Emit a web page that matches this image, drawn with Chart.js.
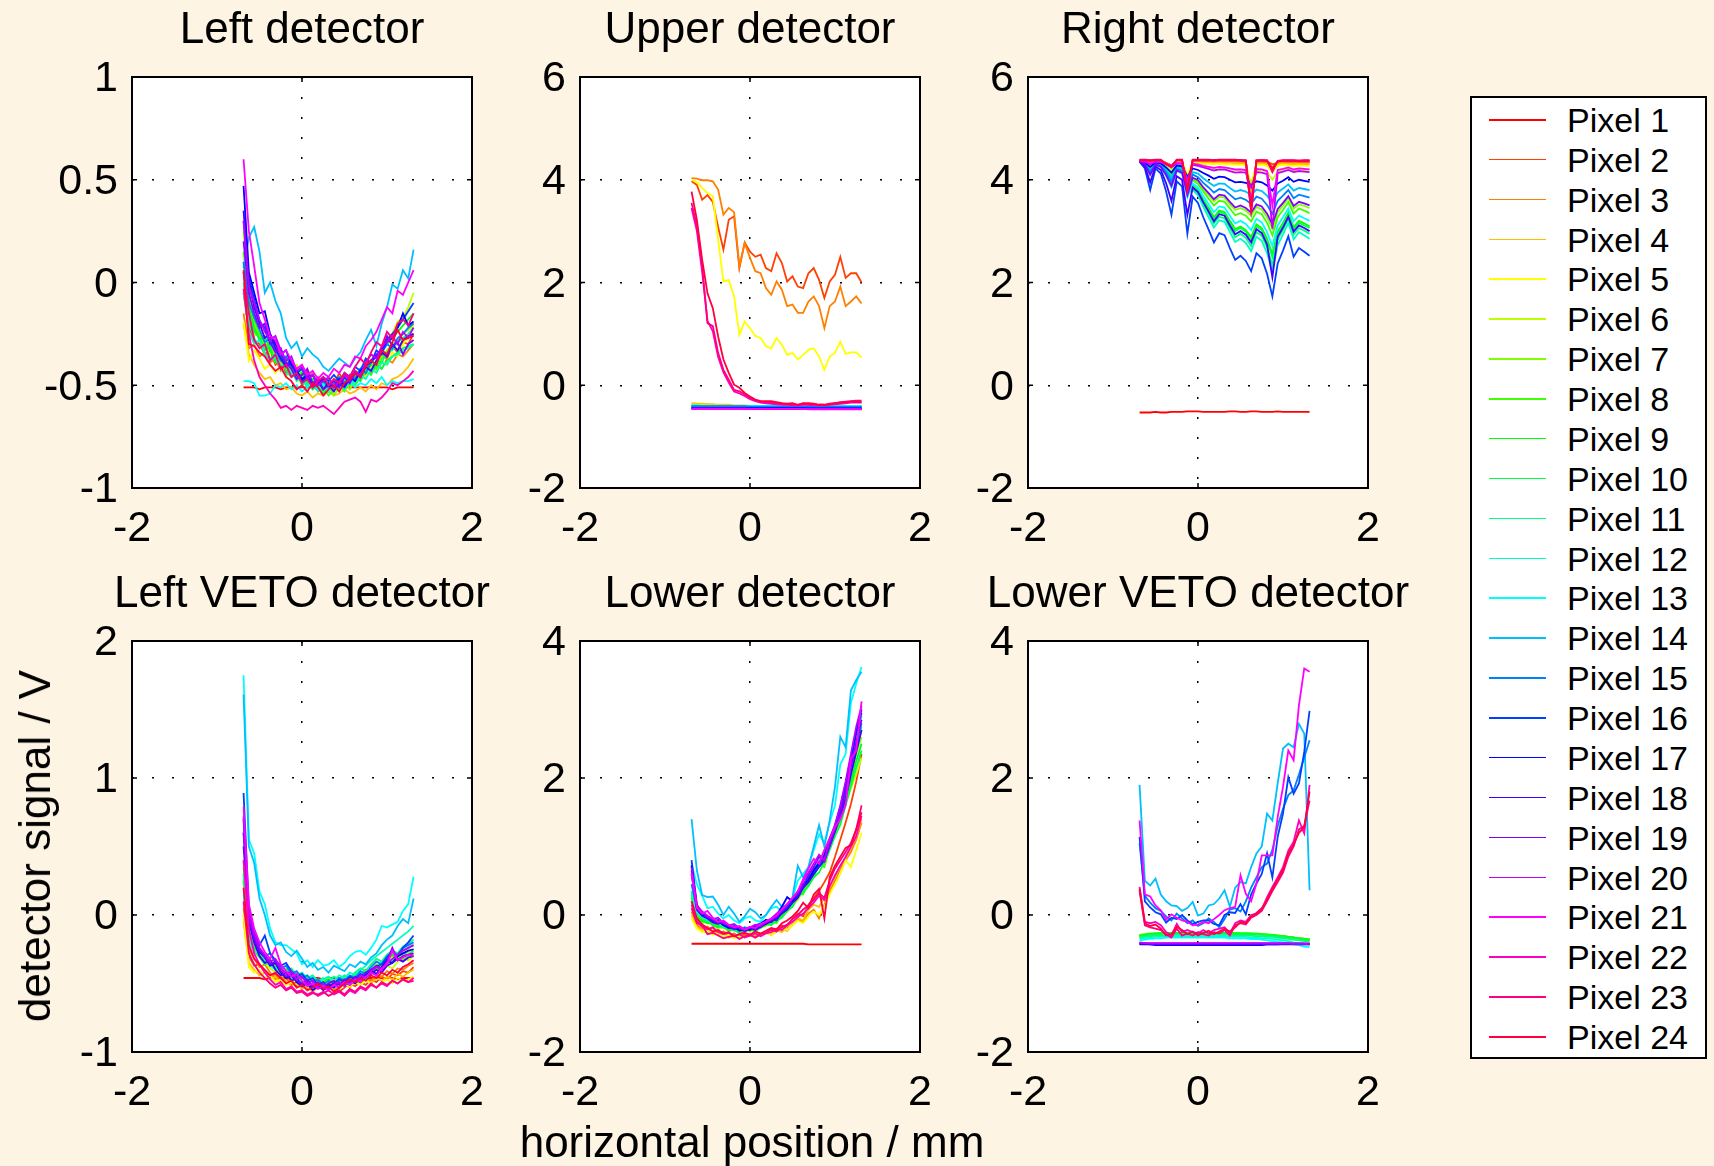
<!DOCTYPE html>
<html><head><meta charset="utf-8">
<script src="https://cdn.jsdelivr.net/npm/chart.js@4/dist/chart.umd.min.js"></script>
<style>
html,body{margin:0;padding:0;background:#fdf4e3;}
body{width:1714px;height:1166px;position:relative;overflow:hidden;font-family:"Liberation Sans",Arial,Helvetica,sans-serif;}
canvas{position:absolute;}
.axlabel{position:absolute;font-size:44px;color:#000;white-space:nowrap;line-height:1;}
#legend{position:absolute;left:1470px;top:96px;width:237px;height:963px;box-sizing:border-box;border:2px solid #000;background:#fff;}
.lg-row{position:absolute;left:0;height:40px;width:100%;}
.lg-line{position:absolute;left:17px;top:19px;width:57px;height:1.5px;}
.lg-text{position:absolute;left:95px;top:0;line-height:40px;font-size:34px;color:#000;white-space:nowrap;}
</style></head><body>
<div id="charts"></div>
<div class="axlabel" id="ylab" style="left:35px;top:846px;transform:translate(-50%,-50%) rotate(-90deg);"></div>
<div class="axlabel" id="xlab" style="left:752px;top:1141.5px;transform:translate(-50%,-50%);"></div>
<div id="legend"></div>
<script>
// ---------------- DATA ----------------
const xPositions = [-0.6875,-0.625,-0.5625,-0.5,-0.4375,-0.375,-0.3125,-0.25,-0.1875,-0.125,-0.0625,0,0.0625,0.125,0.1875,0.25,0.3125,0.375,0.4375,0.5,0.5625,0.625,0.6875,0.75,0.8125,0.875,0.9375,1,1.0625,1.125,1.1875,1.25,1.3125];
const pixelLabels = ['Pixel 1','Pixel 2','Pixel 3','Pixel 4','Pixel 5','Pixel 6','Pixel 7','Pixel 8','Pixel 9','Pixel 10','Pixel 11','Pixel 12','Pixel 13','Pixel 14','Pixel 15','Pixel 16','Pixel 17','Pixel 18','Pixel 19','Pixel 20','Pixel 21','Pixel 22','Pixel 23','Pixel 24'];
const panelTitles = ['Left detector','Upper detector','Right detector','Left VETO detector','Lower detector','Lower VETO detector'];
const xTicks = [-2,0,2];
const yTicksLeft = [-1,-0.5,0,0.5,1];
const yTicksUpper = [-2,0,2,4,6];
const yTicksRight = [-2,0,2,4,6];
const yTicksLeftVeto = [-1,0,1,2];
const yTicksLower = [-2,0,2,4];
const yTicksLowerVeto = [-2,0,2,4];
const yAxisTitle = 'detector signal / V';
const xAxisTitle = 'horizontal position / mm';

const leftDetector = [
[-0.51,-0.51,-0.51,-0.52,-0.51,-0.51,-0.51,-0.52,-0.51,-0.51,-0.51,-0.51,-0.51,-0.51,-0.52,-0.51,-0.51,-0.51,-0.51,-0.51,-0.51,-0.51,-0.51,-0.51,-0.51,-0.51,-0.51,-0.51,-0.52,-0.51,-0.51,-0.51,-0.51],
[-0.05,-0.22,-0.28,-0.30,-0.35,-0.33,-0.40,-0.38,-0.44,-0.41,-0.47,-0.45,-0.43,-0.50,-0.46,-0.52,-0.47,-0.50,-0.44,-0.49,-0.46,-0.48,-0.42,-0.45,-0.38,-0.41,-0.35,-0.37,-0.31,-0.34,-0.29,-0.30,-0.25],
[-0.15,-0.32,-0.30,-0.36,-0.34,-0.39,-0.37,-0.43,-0.40,-0.45,-0.43,-0.48,-0.46,-0.44,-0.50,-0.47,-0.51,-0.48,-0.50,-0.47,-0.49,-0.45,-0.47,-0.43,-0.44,-0.40,-0.42,-0.37,-0.39,-0.35,-0.36,-0.33,-0.30],
[-0.20,-0.35,-0.40,-0.44,-0.47,-0.46,-0.50,-0.49,-0.52,-0.51,-0.54,-0.55,-0.53,-0.56,-0.54,-0.55,-0.53,-0.55,-0.54,-0.52,-0.54,-0.53,-0.51,-0.53,-0.50,-0.52,-0.49,-0.50,-0.47,-0.46,-0.44,-0.41,-0.37],
[-0.19,-0.38,-0.33,-0.37,-0.42,-0.40,-0.44,-0.41,-0.46,-0.43,-0.48,-0.45,-0.49,-0.47,-0.50,-0.46,-0.51,-0.49,-0.47,-0.50,-0.45,-0.48,-0.43,-0.46,-0.41,-0.43,-0.38,-0.40,-0.34,-0.36,-0.30,-0.27,-0.20],
[0.00,-0.18,-0.26,-0.24,-0.31,-0.35,-0.32,-0.38,-0.36,-0.42,-0.40,-0.44,-0.48,-0.45,-0.49,-0.46,-0.50,-0.47,-0.49,-0.45,-0.47,-0.43,-0.44,-0.38,-0.40,-0.35,-0.33,-0.27,-0.25,-0.19,-0.17,-0.12,-0.05],
[0.25,-0.05,-0.20,-0.27,-0.31,-0.29,-0.36,-0.40,-0.38,-0.44,-0.46,-0.43,-0.49,-0.52,-0.48,-0.53,-0.50,-0.55,-0.51,-0.49,-0.52,-0.47,-0.45,-0.43,-0.39,-0.41,-0.36,-0.33,-0.30,-0.28,-0.25,-0.23,-0.20],
[0.15,-0.08,-0.18,-0.25,-0.30,-0.33,-0.37,-0.35,-0.41,-0.44,-0.42,-0.47,-0.50,-0.48,-0.53,-0.51,-0.55,-0.52,-0.50,-0.53,-0.48,-0.50,-0.46,-0.44,-0.40,-0.42,-0.37,-0.35,-0.31,-0.33,-0.28,-0.27,-0.25],
[0.10,-0.12,-0.22,-0.28,-0.26,-0.33,-0.38,-0.36,-0.42,-0.40,-0.46,-0.44,-0.49,-0.47,-0.51,-0.49,-0.53,-0.50,-0.47,-0.50,-0.45,-0.47,-0.42,-0.44,-0.38,-0.36,-0.33,-0.30,-0.27,-0.24,-0.21,-0.18,-0.15],
[0.05,-0.15,-0.24,-0.27,-0.33,-0.31,-0.39,-0.37,-0.43,-0.46,-0.44,-0.50,-0.48,-0.52,-0.50,-0.54,-0.51,-0.49,-0.52,-0.48,-0.50,-0.46,-0.48,-0.43,-0.45,-0.40,-0.42,-0.38,-0.36,-0.34,-0.32,-0.31,-0.30],
[0.00,-0.20,-0.27,-0.32,-0.30,-0.37,-0.35,-0.41,-0.39,-0.45,-0.43,-0.47,-0.51,-0.48,-0.52,-0.49,-0.51,-0.48,-0.51,-0.47,-0.49,-0.44,-0.46,-0.42,-0.43,-0.38,-0.39,-0.34,-0.33,-0.29,-0.27,-0.25,-0.22],
[-0.05,-0.24,-0.30,-0.28,-0.35,-0.38,-0.36,-0.42,-0.45,-0.43,-0.48,-0.46,-0.50,-0.48,-0.53,-0.50,-0.48,-0.51,-0.49,-0.52,-0.47,-0.49,-0.45,-0.47,-0.42,-0.44,-0.39,-0.40,-0.36,-0.35,-0.33,-0.32,-0.30],
[-0.48,-0.48,-0.49,-0.55,-0.55,-0.54,-0.50,-0.51,-0.49,-0.52,-0.50,-0.53,-0.51,-0.49,-0.52,-0.50,-0.53,-0.49,-0.51,-0.50,-0.48,-0.51,-0.49,-0.50,-0.47,-0.49,-0.46,-0.50,-0.48,-0.49,-0.48,-0.48,-0.47],
[0.07,0.22,0.27,0.15,-0.05,0.00,-0.09,-0.15,-0.27,-0.32,-0.29,-0.36,-0.32,-0.35,-0.37,-0.41,-0.43,-0.40,-0.37,-0.39,-0.41,-0.37,-0.34,-0.28,-0.23,-0.31,-0.20,-0.12,-0.01,-0.03,0.06,0.02,0.16],
[0.10,-0.10,-0.17,-0.23,-0.29,-0.27,-0.33,-0.38,-0.36,-0.41,-0.44,-0.42,-0.47,-0.45,-0.50,-0.48,-0.51,-0.49,-0.46,-0.49,-0.45,-0.47,-0.42,-0.44,-0.39,-0.36,-0.34,-0.30,-0.32,-0.27,-0.25,-0.22,-0.20],
[0.30,0.02,-0.08,-0.19,-0.22,-0.30,-0.28,-0.35,-0.40,-0.38,-0.44,-0.42,-0.47,-0.45,-0.49,-0.46,-0.48,-0.45,-0.48,-0.44,-0.46,-0.41,-0.43,-0.37,-0.39,-0.33,-0.35,-0.28,-0.25,-0.22,-0.18,-0.14,-0.10],
[0.47,0.05,-0.05,-0.15,-0.14,-0.25,-0.30,-0.35,-0.33,-0.40,-0.43,-0.47,-0.45,-0.50,-0.48,-0.52,-0.49,-0.51,-0.47,-0.50,-0.46,-0.48,-0.43,-0.41,-0.38,-0.36,-0.32,-0.29,-0.27,-0.22,-0.15,-0.21,-0.19],
[0.35,0.00,-0.12,-0.20,-0.27,-0.25,-0.32,-0.37,-0.41,-0.39,-0.45,-0.48,-0.46,-0.51,-0.49,-0.47,-0.50,-0.53,-0.49,-0.51,-0.47,-0.44,-0.46,-0.41,-0.43,-0.38,-0.34,-0.36,-0.30,-0.33,-0.28,-0.26,-0.25],
[0.20,-0.05,-0.15,-0.22,-0.20,-0.29,-0.34,-0.32,-0.39,-0.42,-0.47,-0.45,-0.42,-0.49,-0.47,-0.52,-0.50,-0.48,-0.51,-0.46,-0.49,-0.44,-0.46,-0.40,-0.38,-0.35,-0.33,-0.26,-0.31,-0.29,-0.35,-0.30,-0.28],
[0.30,-0.02,-0.10,-0.18,-0.24,-0.28,-0.26,-0.33,-0.38,-0.36,-0.43,-0.41,-0.47,-0.45,-0.50,-0.48,-0.46,-0.51,-0.48,-0.45,-0.47,-0.43,-0.45,-0.39,-0.35,-0.37,-0.31,-0.29,-0.26,-0.30,-0.24,-0.27,-0.22],
[0.60,0.25,0.08,-0.10,-0.18,-0.26,-0.28,-0.35,-0.33,-0.38,-0.42,-0.40,-0.45,-0.43,-0.47,-0.44,-0.46,-0.42,-0.44,-0.40,-0.41,-0.36,-0.37,-0.31,-0.28,-0.24,-0.18,-0.12,-0.15,-0.04,-0.06,0.00,0.06],
[-0.03,-0.25,-0.38,-0.46,-0.50,-0.54,-0.57,-0.61,-0.60,-0.62,-0.60,-0.61,-0.62,-0.60,-0.61,-0.60,-0.62,-0.64,-0.61,-0.58,-0.57,-0.56,-0.58,-0.63,-0.57,-0.58,-0.56,-0.53,-0.49,-0.50,-0.48,-0.46,-0.43],
[0.05,-0.15,-0.28,-0.32,-0.30,-0.38,-0.35,-0.42,-0.40,-0.46,-0.44,-0.49,-0.47,-0.51,-0.48,-0.46,-0.50,-0.47,-0.49,-0.44,-0.46,-0.41,-0.37,-0.40,-0.34,-0.29,-0.31,-0.24,-0.27,-0.20,-0.18,-0.21,-0.15],
[0.06,-0.30,-0.31,-0.34,-0.36,-0.40,-0.43,-0.41,-0.46,-0.48,-0.52,-0.50,-0.53,-0.49,-0.51,-0.55,-0.52,-0.50,-0.53,-0.49,-0.47,-0.44,-0.46,-0.41,-0.38,-0.40,-0.33,-0.35,-0.29,-0.23,-0.28,-0.27,-0.26]
];

const upperDetector = [
[-0.43,-0.43,-0.43,-0.43,-0.43,-0.43,-0.43,-0.43,-0.43,-0.43,-0.43,-0.43,-0.43,-0.43,-0.43,-0.43,-0.43,-0.43,-0.43,-0.43,-0.43,-0.43,-0.43,-0.43,-0.43,-0.43,-0.43,-0.43,-0.43,-0.43,-0.43,-0.43,-0.43],
[3.97,3.90,3.61,3.70,3.57,3.08,2.64,3.22,3.29,2.28,2.78,2.60,2.50,2.54,2.28,2.22,2.57,2.38,2.02,2.12,1.92,1.89,2.18,2.28,2.05,1.70,2.02,2.15,2.50,2.09,2.18,2.18,2.00],
[4.03,4.02,3.99,3.99,3.97,3.81,3.32,3.45,3.37,2.31,2.77,2.48,2.22,2.18,1.89,1.76,2.02,1.86,1.54,1.57,1.41,1.41,1.63,1.73,1.54,1.11,1.54,1.63,1.92,1.54,1.63,1.73,1.59],
[-0.35,-0.36,-0.36,-0.37,-0.37,-0.38,-0.38,-0.38,-0.39,-0.39,-0.39,-0.40,-0.40,-0.40,-0.40,-0.41,-0.41,-0.41,-0.41,-0.41,-0.41,-0.41,-0.42,-0.42,-0.42,-0.42,-0.42,-0.42,-0.42,-0.42,-0.42,-0.42,-0.42],
[4.00,3.95,3.84,3.74,3.68,2.83,2.02,2.05,1.73,0.98,1.24,1.11,0.96,0.92,0.76,0.72,0.92,0.79,0.59,0.63,0.50,0.59,0.69,0.72,0.56,0.30,0.56,0.63,0.85,0.61,0.64,0.64,0.54],
[-0.37,-0.38,-0.38,-0.39,-0.39,-0.39,-0.40,-0.40,-0.40,-0.40,-0.41,-0.41,-0.41,-0.41,-0.41,-0.41,-0.42,-0.42,-0.42,-0.42,-0.42,-0.42,-0.42,-0.42,-0.42,-0.42,-0.42,-0.42,-0.42,-0.42,-0.42,-0.42,-0.42],
[-0.39,-0.39,-0.40,-0.40,-0.40,-0.41,-0.41,-0.41,-0.41,-0.41,-0.42,-0.42,-0.42,-0.42,-0.42,-0.42,-0.42,-0.42,-0.42,-0.42,-0.42,-0.42,-0.42,-0.42,-0.42,-0.42,-0.42,-0.42,-0.42,-0.42,-0.42,-0.42,-0.42],
[-0.40,-0.40,-0.41,-0.41,-0.41,-0.41,-0.42,-0.42,-0.42,-0.42,-0.42,-0.43,-0.43,-0.43,-0.43,-0.43,-0.43,-0.43,-0.43,-0.43,-0.43,-0.43,-0.43,-0.43,-0.43,-0.43,-0.43,-0.43,-0.43,-0.43,-0.43,-0.43,-0.43],
[-0.41,-0.41,-0.41,-0.42,-0.42,-0.42,-0.42,-0.42,-0.42,-0.42,-0.42,-0.42,-0.42,-0.42,-0.42,-0.42,-0.42,-0.42,-0.42,-0.42,-0.42,-0.42,-0.43,-0.43,-0.43,-0.43,-0.43,-0.43,-0.43,-0.43,-0.43,-0.43,-0.43],
[-0.41,-0.42,-0.42,-0.42,-0.42,-0.42,-0.42,-0.42,-0.42,-0.42,-0.42,-0.42,-0.42,-0.42,-0.42,-0.42,-0.42,-0.42,-0.42,-0.42,-0.42,-0.42,-0.42,-0.42,-0.42,-0.42,-0.42,-0.42,-0.42,-0.42,-0.42,-0.42,-0.42],
[-0.41,-0.41,-0.41,-0.41,-0.41,-0.41,-0.41,-0.41,-0.41,-0.41,-0.41,-0.41,-0.41,-0.41,-0.41,-0.41,-0.41,-0.41,-0.41,-0.41,-0.41,-0.41,-0.42,-0.42,-0.42,-0.42,-0.42,-0.42,-0.42,-0.42,-0.42,-0.42,-0.42],
[-0.40,-0.40,-0.40,-0.40,-0.40,-0.40,-0.40,-0.40,-0.40,-0.40,-0.40,-0.41,-0.41,-0.41,-0.41,-0.41,-0.41,-0.41,-0.41,-0.41,-0.41,-0.41,-0.41,-0.41,-0.41,-0.41,-0.41,-0.41,-0.41,-0.41,-0.41,-0.41,-0.41],
[-0.39,-0.39,-0.40,-0.40,-0.40,-0.40,-0.40,-0.40,-0.40,-0.40,-0.40,-0.40,-0.40,-0.40,-0.40,-0.40,-0.40,-0.40,-0.40,-0.40,-0.40,-0.40,-0.41,-0.41,-0.41,-0.41,-0.41,-0.41,-0.41,-0.41,-0.41,-0.41,-0.41],
[-0.40,-0.40,-0.40,-0.40,-0.40,-0.40,-0.40,-0.40,-0.40,-0.40,-0.40,-0.41,-0.41,-0.41,-0.41,-0.41,-0.41,-0.41,-0.41,-0.41,-0.41,-0.41,-0.41,-0.41,-0.41,-0.41,-0.41,-0.41,-0.41,-0.41,-0.41,-0.41,-0.41],
[-0.41,-0.41,-0.41,-0.41,-0.41,-0.41,-0.41,-0.41,-0.41,-0.41,-0.41,-0.42,-0.42,-0.42,-0.42,-0.42,-0.42,-0.42,-0.42,-0.42,-0.42,-0.42,-0.42,-0.42,-0.42,-0.42,-0.42,-0.42,-0.42,-0.42,-0.42,-0.42,-0.42],
[-0.44,-0.44,-0.44,-0.44,-0.44,-0.44,-0.44,-0.44,-0.44,-0.44,-0.44,-0.44,-0.44,-0.44,-0.44,-0.44,-0.44,-0.44,-0.44,-0.44,-0.44,-0.44,-0.45,-0.45,-0.45,-0.45,-0.45,-0.45,-0.45,-0.45,-0.45,-0.45,-0.45],
[-0.45,-0.45,-0.45,-0.45,-0.45,-0.45,-0.45,-0.45,-0.45,-0.45,-0.45,-0.45,-0.45,-0.45,-0.45,-0.45,-0.45,-0.45,-0.45,-0.45,-0.45,-0.45,-0.45,-0.45,-0.45,-0.45,-0.45,-0.45,-0.45,-0.45,-0.45,-0.45,-0.45],
[-0.45,-0.45,-0.45,-0.45,-0.45,-0.45,-0.45,-0.45,-0.45,-0.45,-0.45,-0.46,-0.46,-0.46,-0.46,-0.46,-0.46,-0.46,-0.46,-0.46,-0.46,-0.46,-0.46,-0.46,-0.46,-0.46,-0.46,-0.46,-0.46,-0.46,-0.46,-0.46,-0.46],
[-0.45,-0.45,-0.45,-0.45,-0.45,-0.45,-0.45,-0.45,-0.45,-0.45,-0.45,-0.46,-0.46,-0.46,-0.46,-0.46,-0.46,-0.46,-0.46,-0.46,-0.46,-0.46,-0.46,-0.46,-0.46,-0.46,-0.46,-0.46,-0.46,-0.46,-0.46,-0.46,-0.46],
[-0.46,-0.46,-0.46,-0.46,-0.46,-0.46,-0.46,-0.46,-0.46,-0.46,-0.46,-0.46,-0.46,-0.46,-0.46,-0.46,-0.46,-0.46,-0.46,-0.46,-0.46,-0.46,-0.46,-0.46,-0.46,-0.46,-0.46,-0.46,-0.46,-0.46,-0.46,-0.46,-0.46],
[-0.46,-0.46,-0.46,-0.46,-0.46,-0.46,-0.46,-0.46,-0.46,-0.46,-0.46,-0.46,-0.46,-0.46,-0.46,-0.46,-0.46,-0.46,-0.46,-0.46,-0.46,-0.46,-0.47,-0.47,-0.47,-0.47,-0.47,-0.47,-0.47,-0.47,-0.47,-0.47,-0.47],
[3.45,3.00,2.20,1.25,1.05,0.55,0.25,0.05,-0.12,-0.16,-0.21,-0.27,-0.31,-0.34,-0.35,-0.36,-0.37,-0.38,-0.38,-0.39,-0.39,-0.38,-0.38,-0.39,-0.39,-0.39,-0.38,-0.37,-0.36,-0.35,-0.34,-0.34,-0.34],
[3.55,3.10,2.31,1.21,1.15,0.63,0.30,0.11,-0.09,-0.12,-0.18,-0.25,-0.29,-0.32,-0.33,-0.34,-0.35,-0.36,-0.37,-0.37,-0.38,-0.36,-0.37,-0.37,-0.38,-0.38,-0.37,-0.35,-0.33,-0.32,-0.31,-0.30,-0.30],
[3.77,3.22,2.44,1.79,1.50,0.95,0.50,0.24,0.01,-0.05,-0.15,-0.22,-0.28,-0.31,-0.31,-0.31,-0.33,-0.35,-0.36,-0.35,-0.38,-0.35,-0.35,-0.36,-0.38,-0.38,-0.36,-0.35,-0.34,-0.33,-0.32,-0.32,-0.33]
];

const rightDetector = [
[-0.53,-0.53,-0.53,-0.52,-0.53,-0.53,-0.52,-0.52,-0.52,-0.51,-0.51,-0.51,-0.52,-0.52,-0.52,-0.52,-0.52,-0.51,-0.51,-0.52,-0.52,-0.51,-0.51,-0.52,-0.52,-0.52,-0.51,-0.52,-0.52,-0.52,-0.52,-0.52,-0.52],
[4.37,4.37,4.36,4.37,4.37,4.33,4.27,4.36,4.37,3.85,4.37,4.37,4.37,4.36,4.37,4.37,4.37,4.37,4.37,4.37,4.36,3.45,4.36,4.37,4.36,4.30,4.33,4.36,4.36,4.36,4.36,4.35,4.35],
[4.36,4.36,4.35,4.36,4.36,4.33,4.28,4.36,4.36,4.00,4.36,4.36,4.35,4.35,4.35,4.36,4.35,4.35,4.35,4.35,4.34,3.70,4.34,4.35,4.33,4.25,4.33,4.34,4.34,4.33,4.34,4.33,4.33],
[4.36,4.36,4.34,4.36,4.36,4.33,4.28,4.35,4.35,4.05,4.34,4.34,4.33,4.33,4.33,4.34,4.33,4.33,4.32,4.32,4.32,3.80,4.32,4.32,4.30,4.20,4.30,4.32,4.31,4.30,4.31,4.30,4.30],
[4.36,4.35,4.33,4.35,4.35,4.32,4.27,4.34,4.34,4.10,4.33,4.33,4.31,4.31,4.30,4.31,4.30,4.30,4.29,4.29,4.29,3.90,4.29,4.29,4.27,4.15,4.27,4.29,4.28,4.27,4.28,4.27,4.27],
[4.36,4.34,4.30,4.34,4.33,4.28,4.20,4.32,4.31,4.05,4.30,4.29,4.26,4.24,4.22,4.24,4.23,4.21,4.19,4.20,4.18,3.95,4.19,4.19,4.15,4.00,4.15,4.20,4.22,4.18,4.20,4.19,4.20],
[4.37,4.33,4.23,4.33,4.31,4.22,4.11,4.27,4.25,4.02,4.02,3.96,3.82,3.70,3.58,3.67,3.65,3.52,3.41,3.45,3.40,3.30,3.47,3.42,3.27,3.05,3.37,3.50,3.64,3.44,3.52,3.49,3.45],
[4.36,4.33,4.21,4.33,4.30,4.20,4.08,4.26,4.23,3.97,3.99,3.92,3.77,3.63,3.50,3.59,3.57,3.44,3.31,3.35,3.30,3.19,3.38,3.33,3.16,2.92,3.27,3.41,3.56,3.34,3.44,3.40,3.35],
[4.36,4.32,4.17,4.32,4.28,4.16,4.00,4.23,4.20,3.87,3.89,3.80,3.61,3.45,3.27,3.40,3.37,3.20,3.04,3.09,3.02,2.89,3.13,3.06,2.85,2.55,2.99,3.16,3.36,3.08,3.20,3.15,3.09],
[4.36,4.33,4.20,4.33,4.30,4.19,4.06,4.25,4.22,3.94,3.87,3.79,3.59,3.42,3.24,3.37,3.34,3.16,3.00,3.06,2.99,2.84,3.09,3.02,2.81,2.50,2.95,3.13,3.33,3.04,3.16,3.11,3.06],
[4.36,4.31,4.14,4.31,4.27,4.13,3.95,4.21,4.17,3.80,3.83,3.74,3.52,3.34,3.15,3.28,3.25,3.06,2.88,2.95,2.87,2.71,2.98,2.91,2.68,2.34,2.83,3.02,3.24,2.93,3.06,3.01,2.95],
[4.36,4.30,4.11,4.30,4.26,4.10,3.90,4.19,4.15,3.73,3.80,3.70,3.47,3.27,3.07,3.21,3.18,2.98,2.79,2.85,2.77,2.61,2.89,2.81,2.57,2.21,2.73,2.93,3.16,2.84,2.98,2.92,2.85],
[4.36,4.30,4.09,4.30,4.25,4.07,3.85,4.17,4.12,3.66,3.93,3.85,3.68,3.53,3.37,3.48,3.46,3.30,3.15,3.20,3.14,3.02,3.24,3.17,2.98,2.71,3.11,3.27,3.44,3.19,3.30,3.25,3.20],
[4.36,4.32,4.19,4.32,4.29,4.18,4.04,4.25,4.22,3.93,4.15,4.12,4.03,3.95,3.88,3.93,3.92,3.84,3.77,3.80,3.77,3.70,3.81,3.78,3.69,3.55,3.75,3.83,3.91,3.79,3.84,3.82,3.80],
[4.36,4.31,4.15,4.31,4.27,4.14,3.96,4.21,4.17,3.82,4.10,4.05,3.94,3.85,3.75,3.82,3.80,3.71,3.62,3.65,3.61,3.53,3.67,3.63,3.51,3.34,3.59,3.69,3.80,3.64,3.71,3.68,3.65],
[4.35,4.22,3.80,4.22,4.12,3.77,3.32,3.97,3.87,2.95,3.67,3.55,3.27,3.03,2.78,2.96,2.92,2.67,2.44,2.52,2.42,2.22,2.57,2.47,2.17,1.73,2.37,2.62,2.90,2.50,2.67,2.60,2.52],
[4.37,4.34,4.25,4.34,4.32,4.24,4.14,4.28,4.26,4.06,4.22,4.19,4.13,4.08,4.02,4.06,4.05,4.00,3.95,3.96,3.94,3.90,3.97,3.95,3.89,3.79,3.93,3.98,4.05,3.96,4.00,3.98,3.96],
[4.36,4.26,3.95,4.26,4.19,3.93,3.59,4.07,4.00,3.32,3.85,3.76,3.56,3.38,3.19,3.33,3.30,3.11,2.94,3.00,2.93,2.78,3.04,2.96,2.74,2.10,2.89,3.07,3.28,2.99,3.11,3.06,3.00],
[4.36,4.30,4.10,4.30,4.25,4.09,3.88,4.18,4.14,3.70,4.04,3.99,3.85,3.74,3.62,3.71,3.69,3.57,3.46,3.50,3.45,3.36,3.52,3.48,3.34,3.13,3.43,3.55,3.68,3.49,3.57,3.54,3.50],
[4.37,4.35,4.30,4.35,4.34,4.30,4.24,4.32,4.31,4.00,4.29,4.27,4.24,4.21,4.18,4.20,4.20,4.17,4.14,4.15,4.14,3.85,4.15,4.14,4.11,3.05,4.13,4.16,4.19,4.15,4.17,4.16,4.15],
[4.37,4.36,4.32,4.36,4.35,4.32,4.28,4.33,4.32,3.95,4.31,4.30,4.27,4.25,4.23,4.25,4.24,4.22,4.20,4.20,4.19,3.60,4.21,4.20,4.17,3.50,4.19,4.21,4.24,4.20,4.22,4.21,4.20],
[4.38,4.38,4.37,4.38,4.38,4.30,4.25,4.38,4.38,3.80,4.38,4.38,4.38,4.38,4.37,4.38,4.38,4.38,4.38,4.37,4.37,3.40,4.37,4.37,4.37,4.20,4.36,4.37,4.37,4.37,4.36,4.36,4.36],
[4.39,4.39,4.38,4.39,4.39,4.30,4.26,4.39,4.39,3.78,4.39,4.39,4.39,4.39,4.38,4.39,4.39,4.39,4.39,4.38,4.38,3.35,4.38,4.38,4.38,4.15,4.37,4.38,4.38,4.38,4.37,4.38,4.38],
[4.38,4.38,4.37,4.38,4.38,4.31,4.26,4.38,4.38,3.82,4.38,4.38,4.38,4.38,4.38,4.38,4.38,4.38,4.38,4.38,4.37,3.42,4.37,4.38,4.37,4.22,4.36,4.37,4.37,4.37,4.37,4.37,4.37]
];

const leftVetoDetector = [
[-0.46,-0.46,-0.46,-0.46,-0.47,-0.46,-0.46,-0.46,-0.46,-0.47,-0.46,-0.46,-0.46,-0.46,-0.46,-0.47,-0.46,-0.46,-0.46,-0.46,-0.46,-0.46,-0.47,-0.46,-0.46,-0.46,-0.46,-0.46,-0.46,-0.47,-0.46,-0.46,-0.46],
[0.00,-0.30,-0.37,-0.36,-0.42,-0.45,-0.43,-0.48,-0.46,-0.51,-0.49,-0.53,-0.51,-0.55,-0.52,-0.50,-0.54,-0.51,-0.56,-0.53,-0.50,-0.52,-0.49,-0.51,-0.47,-0.49,-0.45,-0.47,-0.43,-0.44,-0.41,-0.42,-0.38],
[0.05,-0.25,-0.32,-0.38,-0.36,-0.42,-0.47,-0.44,-0.49,-0.47,-0.52,-0.50,-0.54,-0.52,-0.49,-0.53,-0.51,-0.55,-0.52,-0.49,-0.51,-0.48,-0.50,-0.46,-0.48,-0.44,-0.45,-0.41,-0.43,-0.39,-0.40,-0.37,-0.35],
[-0.05,-0.35,-0.40,-0.44,-0.42,-0.47,-0.45,-0.50,-0.48,-0.52,-0.50,-0.54,-0.52,-0.56,-0.53,-0.51,-0.55,-0.52,-0.54,-0.50,-0.53,-0.49,-0.51,-0.47,-0.50,-0.46,-0.48,-0.45,-0.47,-0.43,-0.45,-0.42,-0.40],
[0.00,-0.38,-0.42,-0.40,-0.46,-0.44,-0.49,-0.47,-0.51,-0.49,-0.53,-0.51,-0.55,-0.53,-0.50,-0.54,-0.52,-0.56,-0.53,-0.50,-0.52,-0.49,-0.51,-0.48,-0.50,-0.53,-0.49,-0.47,-0.50,-0.46,-0.48,-0.47,-0.45],
[0.20,-0.12,-0.25,-0.30,-0.35,-0.39,-0.42,-0.40,-0.45,-0.43,-0.47,-0.45,-0.49,-0.47,-0.51,-0.48,-0.46,-0.50,-0.47,-0.49,-0.46,-0.48,-0.44,-0.46,-0.42,-0.44,-0.40,-0.37,-0.39,-0.34,-0.32,-0.33,-0.30],
[0.30,-0.08,-0.22,-0.28,-0.33,-0.37,-0.35,-0.41,-0.39,-0.44,-0.42,-0.46,-0.44,-0.49,-0.47,-0.50,-0.48,-0.51,-0.46,-0.49,-0.45,-0.47,-0.43,-0.45,-0.40,-0.36,-0.38,-0.33,-0.30,-0.32,-0.28,-0.27,-0.25],
[0.40,-0.05,-0.20,-0.29,-0.34,-0.32,-0.38,-0.42,-0.40,-0.45,-0.48,-0.46,-0.50,-0.48,-0.53,-0.50,-0.52,-0.49,-0.51,-0.47,-0.50,-0.46,-0.48,-0.44,-0.42,-0.39,-0.41,-0.36,-0.34,-0.31,-0.33,-0.30,-0.28],
[0.35,-0.10,-0.24,-0.27,-0.32,-0.36,-0.39,-0.37,-0.43,-0.41,-0.46,-0.44,-0.48,-0.46,-0.51,-0.49,-0.47,-0.50,-0.48,-0.45,-0.47,-0.43,-0.45,-0.40,-0.42,-0.37,-0.35,-0.32,-0.29,-0.31,-0.26,-0.24,-0.22],
[0.25,-0.14,-0.26,-0.31,-0.36,-0.34,-0.40,-0.44,-0.42,-0.47,-0.45,-0.49,-0.52,-0.50,-0.48,-0.52,-0.50,-0.53,-0.49,-0.51,-0.47,-0.49,-0.45,-0.47,-0.42,-0.44,-0.39,-0.36,-0.33,-0.30,-0.28,-0.29,-0.26],
[0.30,-0.09,-0.21,-0.26,-0.31,-0.35,-0.38,-0.36,-0.41,-0.39,-0.44,-0.42,-0.46,-0.44,-0.48,-0.46,-0.49,-0.45,-0.47,-0.44,-0.46,-0.42,-0.39,-0.41,-0.36,-0.32,-0.34,-0.29,-0.26,-0.28,-0.23,-0.21,-0.18],
[0.15,-0.18,-0.28,-0.26,-0.33,-0.37,-0.40,-0.38,-0.43,-0.41,-0.45,-0.43,-0.47,-0.45,-0.49,-0.47,-0.45,-0.48,-0.44,-0.46,-0.42,-0.44,-0.40,-0.37,-0.33,-0.30,-0.27,-0.24,-0.21,-0.18,-0.15,-0.12,-0.08],
[1.75,0.55,0.45,0.17,0.08,-0.10,-0.20,-0.22,-0.22,-0.25,-0.28,-0.36,-0.33,-0.38,-0.33,-0.37,-0.36,-0.33,-0.38,-0.35,-0.30,-0.27,-0.26,-0.29,-0.24,-0.18,-0.08,-0.09,-0.07,-0.05,0.03,0.08,0.28],
[1.61,0.50,0.38,0.12,0.00,-0.15,-0.22,-0.20,-0.27,-0.30,-0.26,-0.32,-0.38,-0.35,-0.40,-0.38,-0.42,-0.37,-0.39,-0.41,-0.36,-0.38,-0.34,-0.36,-0.31,-0.28,-0.22,-0.18,-0.15,-0.08,-0.03,-0.06,0.12],
[0.60,-0.02,-0.18,-0.25,-0.30,-0.28,-0.35,-0.39,-0.37,-0.43,-0.41,-0.46,-0.44,-0.49,-0.47,-0.51,-0.48,-0.50,-0.46,-0.48,-0.44,-0.46,-0.41,-0.43,-0.38,-0.34,-0.36,-0.30,-0.27,-0.29,-0.24,-0.22,-0.20],
[0.89,0.05,-0.12,-0.22,-0.15,-0.28,-0.33,-0.37,-0.35,-0.41,-0.45,-0.43,-0.48,-0.46,-0.51,-0.49,-0.53,-0.50,-0.47,-0.49,-0.45,-0.47,-0.43,-0.45,-0.40,-0.38,-0.36,-0.31,-0.27,-0.30,-0.24,-0.20,-0.15],
[0.70,0.00,-0.16,-0.27,-0.31,-0.37,-0.35,-0.42,-0.46,-0.44,-0.49,-0.52,-0.50,-0.55,-0.52,-0.54,-0.51,-0.53,-0.49,-0.51,-0.48,-0.50,-0.46,-0.44,-0.41,-0.43,-0.38,-0.33,-0.35,-0.30,-0.28,-0.26,-0.25],
[0.50,-0.05,-0.20,-0.30,-0.35,-0.33,-0.40,-0.44,-0.42,-0.48,-0.46,-0.51,-0.49,-0.53,-0.51,-0.55,-0.52,-0.50,-0.53,-0.49,-0.51,-0.47,-0.49,-0.45,-0.43,-0.40,-0.42,-0.37,-0.35,-0.32,-0.34,-0.31,-0.30],
[0.60,-0.02,-0.17,-0.26,-0.31,-0.36,-0.34,-0.41,-0.45,-0.43,-0.48,-0.50,-0.47,-0.52,-0.49,-0.53,-0.50,-0.48,-0.51,-0.47,-0.49,-0.45,-0.47,-0.42,-0.40,-0.37,-0.39,-0.34,-0.24,-0.33,-0.30,-0.29,-0.28],
[0.72,0.02,-0.14,-0.24,-0.29,-0.34,-0.32,-0.39,-0.43,-0.41,-0.47,-0.45,-0.50,-0.48,-0.52,-0.50,-0.54,-0.51,-0.49,-0.52,-0.47,-0.49,-0.44,-0.46,-0.41,-0.38,-0.40,-0.35,-0.32,-0.29,-0.26,-0.24,-0.22],
[0.79,0.08,-0.10,-0.20,-0.27,-0.32,-0.24,-0.36,-0.41,-0.45,-0.43,-0.48,-0.52,-0.50,-0.54,-0.52,-0.55,-0.51,-0.53,-0.49,-0.51,-0.47,-0.49,-0.45,-0.42,-0.44,-0.39,-0.36,-0.26,-0.33,-0.31,-0.29,-0.30],
[0.40,-0.10,-0.28,-0.36,-0.42,-0.47,-0.51,-0.49,-0.54,-0.52,-0.56,-0.55,-0.58,-0.56,-0.59,-0.57,-0.55,-0.58,-0.56,-0.59,-0.55,-0.57,-0.53,-0.55,-0.51,-0.53,-0.50,-0.52,-0.48,-0.50,-0.47,-0.49,-0.46],
[0.10,-0.28,-0.36,-0.42,-0.46,-0.50,-0.53,-0.51,-0.55,-0.53,-0.57,-0.56,-0.59,-0.57,-0.58,-0.56,-0.59,-0.57,-0.55,-0.58,-0.54,-0.56,-0.52,-0.54,-0.50,-0.53,-0.49,-0.51,-0.48,-0.50,-0.47,-0.49,-0.48],
[0.20,-0.22,-0.32,-0.36,-0.40,-0.44,-0.42,-0.46,-0.50,-0.48,-0.53,-0.51,-0.55,-0.53,-0.50,-0.54,-0.52,-0.56,-0.53,-0.50,-0.47,-0.49,-0.46,-0.48,-0.44,-0.46,-0.42,-0.44,-0.40,-0.42,-0.38,-0.36,-0.33]
];

const lowerDetector = [
[-0.42,-0.42,-0.42,-0.42,-0.42,-0.42,-0.42,-0.42,-0.42,-0.42,-0.42,-0.42,-0.42,-0.42,-0.42,-0.42,-0.42,-0.42,-0.42,-0.42,-0.42,-0.42,-0.43,-0.43,-0.43,-0.43,-0.43,-0.43,-0.43,-0.43,-0.43,-0.43,-0.43],
[0.20,-0.08,-0.15,-0.22,-0.18,-0.27,-0.24,-0.30,-0.27,-0.32,-0.28,-0.31,-0.26,-0.29,-0.24,-0.20,-0.23,-0.15,-0.18,-0.05,0.02,-0.02,0.15,0.25,0.35,0.48,0.62,0.85,1.10,1.35,1.62,1.95,2.35],
[0.05,-0.15,-0.20,-0.17,-0.24,-0.27,-0.25,-0.31,-0.28,-0.33,-0.30,-0.27,-0.31,-0.28,-0.25,-0.29,-0.24,-0.21,-0.23,-0.14,-0.07,-0.10,0.02,0.08,-0.05,0.15,0.35,0.50,0.68,0.80,0.92,1.10,1.35],
[0.00,-0.18,-0.22,-0.27,-0.24,-0.30,-0.27,-0.33,-0.30,-0.34,-0.31,-0.28,-0.32,-0.29,-0.26,-0.28,-0.22,-0.25,-0.17,-0.10,-0.04,-0.08,0.08,0.15,0.12,0.25,0.40,0.55,0.72,0.82,0.98,1.15,1.40],
[-0.05,-0.20,-0.25,-0.22,-0.29,-0.26,-0.32,-0.29,-0.34,-0.31,-0.33,-0.30,-0.27,-0.30,-0.26,-0.29,-0.24,-0.20,-0.22,-0.15,-0.08,-0.12,-0.02,0.05,0.00,0.12,0.30,0.45,0.60,0.80,0.70,0.95,1.20],
[0.20,-0.05,-0.12,-0.10,-0.16,-0.20,-0.18,-0.24,-0.21,-0.26,-0.23,-0.20,-0.23,-0.18,-0.16,-0.12,-0.08,-0.02,0.05,0.15,0.22,0.35,0.50,0.62,0.80,0.95,1.12,1.28,1.40,1.62,1.85,2.05,2.30],
[0.30,0.00,-0.06,-0.10,-0.08,-0.15,-0.19,-0.17,-0.22,-0.25,-0.21,-0.24,-0.19,-0.16,-0.11,-0.14,-0.06,0.00,0.05,0.18,0.25,0.36,0.45,0.62,0.70,0.80,1.02,1.18,1.45,1.75,2.05,2.35,2.60],
[0.35,0.02,-0.05,-0.08,-0.14,-0.12,-0.18,-0.21,-0.19,-0.24,-0.22,-0.18,-0.21,-0.16,-0.12,-0.09,-0.12,0.02,0.10,0.16,0.32,0.30,0.48,0.55,0.75,0.70,0.98,1.22,1.48,1.72,2.10,2.40,2.70],
[0.25,-0.03,-0.08,-0.12,-0.10,-0.17,-0.15,-0.22,-0.20,-0.26,-0.23,-0.21,-0.24,-0.18,-0.15,-0.10,-0.07,0.00,0.12,0.18,0.28,0.40,0.46,0.58,0.72,0.85,1.00,1.20,1.38,1.65,1.95,2.25,2.50],
[0.20,-0.05,-0.10,-0.08,-0.15,-0.18,-0.16,-0.23,-0.21,-0.27,-0.24,-0.20,-0.22,-0.19,-0.13,-0.15,-0.08,-0.04,0.06,0.12,0.26,0.33,0.42,0.55,0.62,0.78,0.95,1.15,1.32,1.60,1.88,2.15,2.40],
[0.30,0.02,-0.04,-0.09,-0.07,-0.14,-0.18,-0.16,-0.23,-0.20,-0.24,-0.19,-0.21,-0.15,-0.12,-0.08,-0.03,0.04,0.12,0.22,0.30,0.42,0.52,0.64,0.72,0.88,1.05,1.25,1.50,1.80,2.12,2.45,2.75],
[0.35,0.04,-0.02,-0.06,-0.11,-0.09,-0.16,-0.19,-0.17,-0.22,-0.18,-0.21,-0.17,-0.14,-0.10,-0.06,-0.02,0.05,0.14,0.20,0.34,0.40,0.55,0.66,0.78,0.90,1.08,1.30,1.52,1.85,2.20,2.55,2.90],
[0.75,0.45,0.28,0.10,0.12,0.02,-0.05,0.00,-0.08,-0.12,-0.05,-0.02,-0.08,-0.10,0.00,0.10,0.12,0.05,0.12,0.25,0.50,0.60,0.70,0.95,1.18,1.05,1.35,1.60,2.20,2.35,3.10,3.38,3.62],
[1.40,0.65,0.29,0.26,0.27,0.15,0.00,0.12,0.02,-0.10,-0.02,0.09,0.04,-0.05,0.00,0.12,0.22,0.12,0.15,0.26,0.72,0.55,0.70,1.00,1.31,1.00,1.38,1.87,2.60,2.45,3.28,3.43,3.55],
[0.45,0.08,0.00,-0.04,-0.09,-0.07,-0.14,-0.17,-0.15,-0.21,-0.18,-0.20,-0.15,-0.12,-0.08,-0.11,-0.02,0.05,0.12,0.20,0.32,0.38,0.52,0.60,0.72,0.85,1.05,1.28,1.48,1.80,2.12,2.48,2.80],
[0.80,0.15,0.02,-0.02,-0.08,-0.12,-0.10,-0.18,-0.21,-0.19,-0.24,-0.20,-0.16,-0.18,-0.10,-0.06,-0.08,0.05,0.10,0.22,0.28,0.42,0.55,0.62,0.78,0.82,1.08,1.28,1.55,1.88,2.25,2.65,2.95],
[0.72,0.10,0.00,-0.04,-0.10,-0.08,-0.15,-0.19,-0.17,-0.23,-0.20,-0.22,-0.16,-0.13,-0.07,-0.10,0.00,0.12,0.26,0.20,0.30,0.45,0.50,0.66,0.75,0.88,1.12,1.30,1.58,1.92,2.30,2.70,3.00],
[0.60,0.08,-0.01,-0.05,-0.11,-0.13,-0.10,-0.17,-0.20,-0.18,-0.23,-0.19,-0.22,-0.17,-0.13,-0.09,-0.05,0.02,0.08,0.18,0.25,0.40,0.48,0.60,0.70,0.80,1.00,1.22,1.45,1.70,2.05,2.38,2.70],
[0.65,0.12,0.03,-0.03,-0.07,-0.12,-0.10,-0.16,-0.19,-0.17,-0.22,-0.18,-0.20,-0.15,-0.11,-0.07,-0.03,0.06,0.14,0.24,0.30,0.44,0.58,0.70,0.85,0.78,1.02,1.25,1.50,1.82,2.18,2.52,2.85],
[0.70,0.14,0.05,-0.01,-0.06,-0.04,-0.12,-0.15,-0.13,-0.19,-0.22,-0.18,-0.14,-0.16,-0.09,-0.05,0.02,0.08,0.16,0.24,0.34,0.50,0.62,0.75,0.88,0.80,1.10,1.32,1.60,1.95,2.35,2.75,3.05],
[0.60,0.10,0.02,0.06,-0.04,-0.10,-0.08,-0.14,-0.18,-0.16,-0.21,-0.17,-0.19,-0.13,-0.10,-0.06,-0.01,0.08,0.16,0.25,0.35,0.52,0.68,0.82,0.75,0.95,1.12,1.28,1.40,1.60,2.28,2.40,3.12],
[0.15,-0.10,-0.17,-0.21,-0.18,-0.25,-0.28,-0.26,-0.31,-0.28,-0.33,-0.30,-0.27,-0.31,-0.27,-0.25,-0.20,-0.22,-0.15,-0.10,-0.03,0.02,0.10,0.18,0.28,0.22,0.42,0.58,0.72,0.85,1.00,1.15,1.45],
[0.10,-0.12,-0.15,-0.28,-0.26,-0.30,-0.34,-0.32,-0.30,-0.35,-0.31,-0.29,-0.33,-0.28,-0.26,-0.22,-0.24,-0.18,-0.14,-0.06,0.00,0.08,0.14,0.22,0.32,0.25,0.50,0.68,0.80,0.92,1.05,1.25,1.60],
[0.20,-0.05,-0.14,-0.19,-0.24,-0.22,-0.27,-0.25,-0.31,-0.28,-0.26,-0.29,-0.24,-0.27,-0.23,-0.19,-0.21,-0.12,-0.08,-0.02,0.06,0.18,0.10,0.30,0.38,-0.05,0.55,0.72,0.85,0.98,1.02,1.25,1.50]
];

const lowerVetoDetector = [
[-0.42,-0.42,-0.42,-0.42,-0.42,-0.42,-0.42,-0.42,-0.42,-0.42,-0.42,-0.42,-0.42,-0.42,-0.42,-0.42,-0.42,-0.42,-0.42,-0.42,-0.42,-0.42,-0.42,-0.42,-0.42,-0.42,-0.42,-0.42,-0.42,-0.42,-0.42,-0.42,-0.42],
[-0.30,-0.29,-0.28,-0.28,-0.28,-0.27,-0.27,-0.27,-0.27,-0.27,-0.27,-0.27,-0.27,-0.27,-0.27,-0.27,-0.27,-0.27,-0.27,-0.28,-0.28,-0.28,-0.28,-0.29,-0.29,-0.30,-0.30,-0.31,-0.32,-0.33,-0.34,-0.35,-0.36],
[-0.31,-0.30,-0.29,-0.28,-0.28,-0.28,-0.28,-0.27,-0.27,-0.27,-0.27,-0.28,-0.28,-0.28,-0.28,-0.28,-0.28,-0.28,-0.28,-0.28,-0.29,-0.29,-0.29,-0.29,-0.30,-0.30,-0.31,-0.32,-0.33,-0.33,-0.34,-0.35,-0.35],
[-0.31,-0.30,-0.29,-0.29,-0.28,-0.28,-0.28,-0.28,-0.28,-0.28,-0.28,-0.28,-0.28,-0.28,-0.28,-0.28,-0.28,-0.28,-0.28,-0.29,-0.29,-0.29,-0.29,-0.30,-0.30,-0.31,-0.31,-0.32,-0.33,-0.34,-0.35,-0.36,-0.37],
[-0.32,-0.31,-0.30,-0.29,-0.29,-0.29,-0.28,-0.28,-0.28,-0.28,-0.28,-0.28,-0.28,-0.28,-0.28,-0.28,-0.28,-0.29,-0.29,-0.29,-0.29,-0.29,-0.30,-0.30,-0.30,-0.31,-0.32,-0.32,-0.33,-0.34,-0.35,-0.36,-0.37],
[-0.31,-0.30,-0.29,-0.28,-0.28,-0.27,-0.27,-0.27,-0.27,-0.26,-0.26,-0.27,-0.27,-0.27,-0.27,-0.27,-0.27,-0.27,-0.28,-0.28,-0.28,-0.28,-0.29,-0.29,-0.30,-0.30,-0.31,-0.32,-0.33,-0.34,-0.35,-0.35,-0.36],
[-0.30,-0.29,-0.28,-0.27,-0.27,-0.27,-0.26,-0.26,-0.26,-0.26,-0.26,-0.26,-0.26,-0.26,-0.26,-0.26,-0.27,-0.27,-0.27,-0.27,-0.27,-0.28,-0.28,-0.28,-0.29,-0.29,-0.30,-0.31,-0.32,-0.33,-0.34,-0.35,-0.36],
[-0.29,-0.28,-0.27,-0.27,-0.26,-0.26,-0.26,-0.26,-0.26,-0.26,-0.26,-0.26,-0.26,-0.26,-0.26,-0.26,-0.26,-0.26,-0.26,-0.27,-0.27,-0.27,-0.27,-0.28,-0.28,-0.29,-0.30,-0.31,-0.32,-0.33,-0.34,-0.35,-0.36],
[-0.30,-0.29,-0.28,-0.27,-0.27,-0.26,-0.26,-0.26,-0.26,-0.26,-0.26,-0.26,-0.26,-0.26,-0.26,-0.26,-0.26,-0.27,-0.27,-0.27,-0.27,-0.27,-0.28,-0.28,-0.29,-0.29,-0.30,-0.31,-0.32,-0.33,-0.34,-0.35,-0.36],
[-0.31,-0.30,-0.29,-0.28,-0.27,-0.27,-0.27,-0.27,-0.27,-0.27,-0.27,-0.27,-0.27,-0.27,-0.27,-0.27,-0.27,-0.27,-0.28,-0.28,-0.28,-0.28,-0.28,-0.29,-0.29,-0.30,-0.31,-0.32,-0.33,-0.34,-0.35,-0.36,-0.37],
[-0.33,-0.32,-0.31,-0.30,-0.30,-0.29,-0.29,-0.29,-0.29,-0.29,-0.29,-0.29,-0.29,-0.29,-0.29,-0.29,-0.29,-0.29,-0.30,-0.30,-0.30,-0.30,-0.31,-0.31,-0.32,-0.32,-0.33,-0.34,-0.35,-0.36,-0.37,-0.38,-0.39],
[-0.35,-0.34,-0.33,-0.32,-0.32,-0.31,-0.31,-0.31,-0.31,-0.31,-0.31,-0.31,-0.31,-0.31,-0.31,-0.31,-0.31,-0.32,-0.32,-0.32,-0.32,-0.33,-0.33,-0.34,-0.34,-0.35,-0.36,-0.37,-0.38,-0.40,-0.41,-0.42,-0.43],
[-0.37,-0.36,-0.35,-0.34,-0.34,-0.33,-0.33,-0.33,-0.33,-0.33,-0.33,-0.33,-0.33,-0.33,-0.33,-0.33,-0.33,-0.34,-0.34,-0.34,-0.34,-0.35,-0.35,-0.36,-0.37,-0.38,-0.39,-0.40,-0.41,-0.43,-0.44,-0.46,-0.47],
[1.90,0.50,0.43,0.53,0.30,0.20,0.14,0.13,0.06,0.10,0.19,-0.01,0.02,0.14,0.16,0.24,0.36,0.12,0.40,0.48,0.46,0.70,0.90,1.00,1.48,1.38,1.92,2.43,2.50,2.45,2.79,2.65,0.36],
[1.05,0.28,0.18,0.10,0.06,-0.02,-0.08,0.02,-0.05,-0.12,-0.08,-0.16,-0.12,-0.05,-0.10,-0.18,-0.06,0.08,0.10,0.05,0.20,0.40,0.55,0.70,0.75,0.95,1.30,1.55,1.75,1.82,2.05,2.30,2.55],
[1.14,0.20,0.11,0.04,0.01,-0.11,-0.04,-0.06,0.00,-0.08,-0.13,-0.10,-0.08,-0.08,-0.13,-0.15,0.00,0.04,0.03,0.16,0.01,0.30,0.46,0.60,0.90,0.55,1.14,1.48,2.01,1.77,1.92,2.38,2.98],
[-0.43,-0.43,-0.43,-0.44,-0.44,-0.44,-0.44,-0.44,-0.44,-0.44,-0.44,-0.44,-0.44,-0.44,-0.44,-0.44,-0.44,-0.44,-0.44,-0.44,-0.44,-0.44,-0.44,-0.44,-0.43,-0.43,-0.43,-0.43,-0.43,-0.43,-0.43,-0.43,-0.43],
[-0.42,-0.42,-0.43,-0.43,-0.43,-0.43,-0.43,-0.43,-0.43,-0.43,-0.43,-0.43,-0.43,-0.43,-0.43,-0.43,-0.43,-0.43,-0.43,-0.43,-0.43,-0.43,-0.43,-0.43,-0.43,-0.43,-0.43,-0.42,-0.42,-0.42,-0.42,-0.42,-0.42],
[-0.41,-0.41,-0.42,-0.42,-0.42,-0.42,-0.42,-0.42,-0.42,-0.42,-0.42,-0.42,-0.42,-0.42,-0.42,-0.42,-0.42,-0.42,-0.42,-0.42,-0.42,-0.42,-0.42,-0.42,-0.42,-0.42,-0.42,-0.42,-0.42,-0.42,-0.42,-0.42,-0.43],
[-0.40,-0.41,-0.41,-0.41,-0.41,-0.41,-0.41,-0.41,-0.41,-0.41,-0.41,-0.41,-0.41,-0.41,-0.41,-0.41,-0.41,-0.41,-0.41,-0.41,-0.41,-0.41,-0.41,-0.41,-0.41,-0.41,-0.41,-0.41,-0.41,-0.42,-0.42,-0.42,-0.42],
[1.38,0.30,0.27,0.14,0.07,-0.07,0.01,-0.04,-0.08,-0.10,-0.15,-0.14,-0.10,-0.12,-0.06,0.00,0.07,0.10,0.12,0.58,0.31,0.20,0.46,0.87,0.87,0.87,1.43,1.87,2.40,2.26,3.06,3.60,3.55],
[0.41,-0.10,-0.12,-0.10,-0.15,-0.25,-0.30,-0.13,-0.25,-0.22,-0.25,-0.27,-0.22,-0.27,-0.22,-0.20,-0.18,-0.27,-0.12,-0.08,-0.10,0.00,0.02,0.08,0.26,0.41,0.55,0.70,0.94,1.07,1.38,1.19,1.90],
[0.35,-0.15,-0.18,-0.20,-0.22,-0.28,-0.33,-0.20,-0.30,-0.27,-0.30,-0.25,-0.28,-0.30,-0.25,-0.27,-0.22,-0.30,-0.15,-0.12,-0.14,-0.04,0.00,0.06,0.20,0.35,0.48,0.62,0.85,1.00,1.25,1.30,1.67],
[0.38,-0.12,-0.16,-0.14,-0.20,-0.30,-0.28,-0.17,-0.22,-0.28,-0.24,-0.30,-0.26,-0.23,-0.28,-0.24,-0.20,-0.24,-0.18,-0.10,-0.12,-0.02,0.03,0.10,0.22,0.38,0.52,0.66,0.90,1.03,1.20,1.28,1.80]
];

// ---------------- STYLE / LAYOUT ----------------
const FONT = "'Liberation Sans', Arial, Helvetica, sans-serif";
const pixelColors = pixelLabels.map((_, i) => 'hsl(' + (i * 15) + ',100%,50%)');
const panels = [
  {data: leftDetector, yTicks: yTicksLeft, col: 0, row: 0},
  {data: upperDetector, yTicks: yTicksUpper, col: 1, row: 0},
  {data: rightDetector, yTicks: yTicksRight, col: 2, row: 0},
  {data: leftVetoDetector, yTicks: yTicksLeftVeto, col: 0, row: 1},
  {data: lowerDetector, yTicks: yTicksLower, col: 1, row: 1},
  {data: lowerVetoDetector, yTicks: yTicksLowerVeto, col: 2, row: 1}
];
const plotLefts = [132, 580, 1028];
const plotTops = [77, 641];
const AXW = 130, TOPH = 80, BOTH = 70, PLOTW = 340, PLOTH = 411;

const framePlugin = {
  id: 'matlabFrame',
  beforeDraw(chart) {
    const {ctx, chartArea: a} = chart;
    ctx.save();
    ctx.fillStyle = '#ffffff';
    ctx.fillRect(a.left, a.top, a.right - a.left, a.bottom - a.top);
    ctx.restore();
  },
  afterDraw(chart) {
    const {ctx, chartArea: a, scales} = chart;
    ctx.save();
    ctx.strokeStyle = '#000';
    ctx.lineWidth = 1.5;
    ctx.beginPath();
    scales.x.ticks.forEach(t => {
      const p = scales.x.getPixelForValue(t.value);
      ctx.moveTo(p, a.bottom); ctx.lineTo(p, a.bottom - 5);
      ctx.moveTo(p, a.top); ctx.lineTo(p, a.top + 5);
    });
    scales.y.ticks.forEach(t => {
      const p = scales.y.getPixelForValue(t.value);
      ctx.moveTo(a.left, p); ctx.lineTo(a.left + 5, p);
      ctx.moveTo(a.right, p); ctx.lineTo(a.right - 5, p);
    });
    ctx.stroke();
    ctx.lineWidth = 2;
    ctx.strokeRect(a.left, a.top, a.right - a.left, a.bottom - a.top);
    ctx.restore();
  }
};

const holder = document.getElementById('charts');
panels.forEach((p, k) => {
  p.data.forEach((s, i) => { if (s.length !== xPositions.length) console.error('length mismatch', k, i, s.length); });
  const cv = document.createElement('canvas');
  cv.width = AXW + PLOTW + AXW;
  cv.height = TOPH + PLOTH + BOTH;
  cv.style.left = (plotLefts[p.col] - AXW) + 'px';
  cv.style.top = (plotTops[p.row] - TOPH) + 'px';
  cv.style.width = cv.width + 'px';
  cv.style.height = cv.height + 'px';
  holder.appendChild(cv);
  const yt = p.yTicks;
  const datasets = p.data.map((series, i) => ({
    label: pixelLabels[i],
    data: series,
    borderColor: pixelColors[i],
    backgroundColor: pixelColors[i],
    borderWidth: 1.8,
    pointRadius: 0,
    fill: false,
    tension: 0,
    order: pixelLabels.length - 1 - i
  }));
  const tickFont = {family: FONT, size: 43};
  new Chart(cv, {
    type: 'line',
    data: {labels: xPositions, datasets},
    options: {
      responsive: false,
      animation: false,
      devicePixelRatio: 1,
      events: [],
      layout: {padding: 0},
      plugins: {
        legend: {display: false},
        tooltip: {enabled: false},
        title: {display: true, text: panelTitles[k], fullSize: true, color: '#000',
                font: {family: FONT, size: 44, weight: 'normal'}, padding: {top: 7.1, bottom: 20.1}}
      },
      scales: {
        x: {
          type: 'linear', min: xTicks[0], max: xTicks[xTicks.length - 1],
          afterBuildTicks: s => { s.ticks = xTicks.map(v => ({value: v})); },
          afterFit: s => { s.height = BOTH; },
          grid: {color: '#000', lineWidth: 1.5, drawTicks: false},
          border: {display: false, dash: [2, 18]},
          ticks: {color: '#000', font: tickFont, padding: 15.5, maxRotation: 0, autoSkip: false, callback: v => String(v)}
        },
        y: {
          type: 'linear', position: 'left', min: yt[0], max: yt[yt.length - 1],
          afterBuildTicks: s => { s.ticks = yt.map(v => ({value: v})); },
          afterFit: s => { s.width = AXW; },
          grid: {color: '#000', lineWidth: 1.5, drawTicks: false},
          border: {display: false, dash: [2, 18]},
          ticks: {color: '#000', font: tickFont, padding: 14, labelOffset: 2.5, autoSkip: false, callback: v => String(v)}
        },
        yRightSpacer: {
          type: 'linear', position: 'right', min: yt[0], max: yt[yt.length - 1],
          afterFit: s => { s.width = AXW; },
          grid: {display: false, drawTicks: false},
          border: {display: false},
          ticks: {display: false}
        }
      }
    },
    plugins: [framePlugin]
  });
});

document.getElementById('ylab').textContent = yAxisTitle;
document.getElementById('xlab').textContent = xAxisTitle;

const legend = document.getElementById('legend');
pixelLabels.forEach((lab, i) => {
  const row = document.createElement('div');
  row.className = 'lg-row';
  row.style.top = (2 + i * 39.87) + 'px';
  const ln = document.createElement('div');
  ln.className = 'lg-line';
  ln.style.background = pixelColors[i];
  const tx = document.createElement('div');
  tx.className = 'lg-text';
  tx.textContent = lab;
  row.appendChild(ln); row.appendChild(tx);
  legend.appendChild(row);
});
</script>
</body></html>
